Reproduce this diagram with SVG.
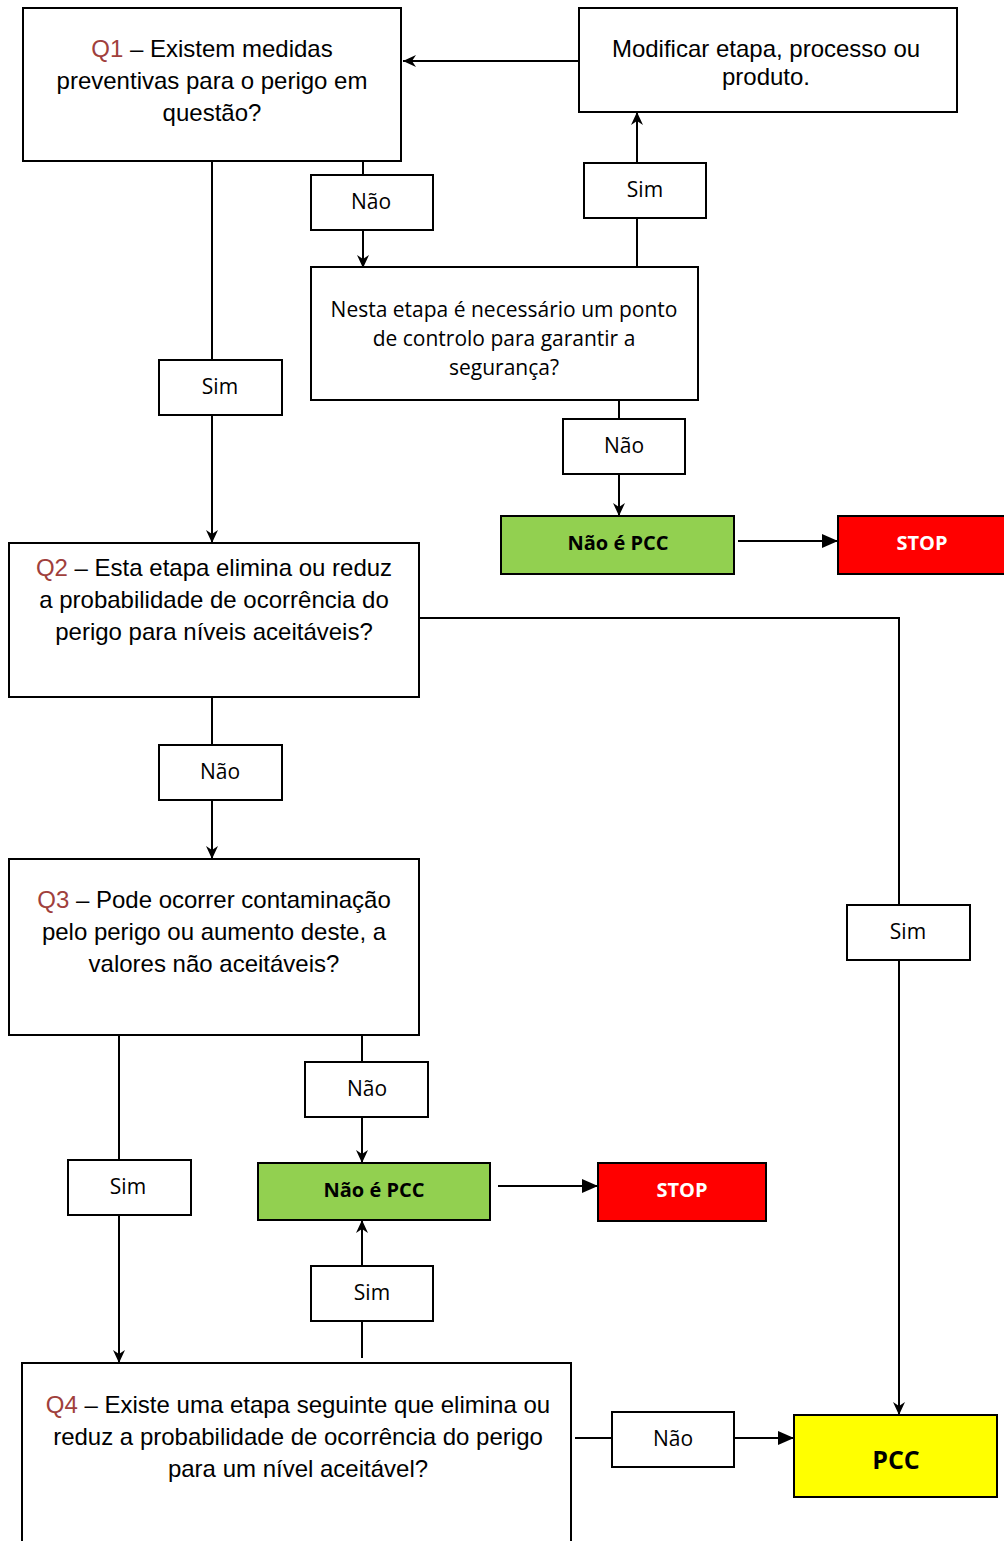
<svg xmlns="http://www.w3.org/2000/svg" width="1004" height="1541" viewBox="0 0 1004 1541">
<defs>
<marker id="open" markerUnits="userSpaceOnUse" markerWidth="14" markerHeight="14" refX="13" refY="6" orient="auto">
<path d="M0,0 L13,6 L0,12 L4,6 z" fill="#000"/>
</marker>
<marker id="block" markerUnits="userSpaceOnUse" markerWidth="18" markerHeight="16" refX="16" refY="7" orient="auto">
<path d="M0,0 L16,7 L0,14 z" fill="#000"/>
</marker>
</defs>
<style>
.box{fill:#fff;stroke:#000;stroke-width:2}
.q{font-family:"Liberation Sans",Arial,sans-serif;font-size:24px;fill:#000;text-anchor:middle}
.qn{fill:#a0403c}
.c{font-family:"Open Sans","Noto Sans",sans-serif;font-size:21px;fill:#000;text-anchor:middle}
.b{font-family:"Open Sans","Noto Sans",sans-serif;font-size:20px;font-weight:bold;text-anchor:middle}
.ln{fill:none;stroke:#000;stroke-width:2}
</style>
<rect width="1004" height="1541" fill="#fff"/>

<g id="connectors">
<line class="ln" x1="581" y1="61" x2="403" y2="61" marker-end="url(#open)"/>
<line class="ln" x1="363" y1="161" x2="363" y2="175"/>
<line class="ln" x1="363" y1="230" x2="363" y2="268" marker-end="url(#open)"/>
<line class="ln" x1="637" y1="269" x2="637" y2="218"/>
<line class="ln" x1="637" y1="163" x2="637" y2="112" marker-end="url(#open)"/>
<line class="ln" x1="619" y1="400" x2="619" y2="419"/>
<line class="ln" x1="619" y1="474" x2="619" y2="516" marker-end="url(#open)"/>
<line class="ln" x1="738" y1="541" x2="838" y2="541" marker-end="url(#block)"/>
<line class="ln" x1="212" y1="161" x2="212" y2="360"/>
<line class="ln" x1="212" y1="415" x2="212" y2="543" marker-end="url(#open)"/>
<polyline class="ln" points="419,618 899,618 899,905"/>
<line class="ln" x1="899" y1="960" x2="899" y2="1415" marker-end="url(#open)"/>
<line class="ln" x1="212" y1="697" x2="212" y2="745"/>
<line class="ln" x1="212" y1="800" x2="212" y2="859" marker-end="url(#open)"/>
<line class="ln" x1="119" y1="1035" x2="119" y2="1160"/>
<line class="ln" x1="119" y1="1215" x2="119" y2="1363" marker-end="url(#open)"/>
<line class="ln" x1="362" y1="1035" x2="362" y2="1062"/>
<line class="ln" x1="362" y1="1117" x2="362" y2="1163" marker-end="url(#open)"/>
<line class="ln" x1="498" y1="1186" x2="598" y2="1186" marker-end="url(#block)"/>
<line class="ln" x1="362" y1="1358" x2="362" y2="1321"/>
<line class="ln" x1="362" y1="1266" x2="362" y2="1220" marker-end="url(#open)"/>
<line class="ln" x1="575" y1="1438" x2="612" y2="1438"/>
<line class="ln" x1="734" y1="1438" x2="794" y2="1438" marker-end="url(#block)"/>
</g>

<g id="q1">
<rect class="box" x="23" y="8" width="378" height="153"/>
<text class="q" x="212" y="57"><tspan class="qn">Q1</tspan> – Existem medidas</text>
<text class="q" x="212" y="89">preventivas para o perigo em</text>
<text class="q" x="212" y="121">questão?</text>
</g>

<g id="modificar">
<rect class="box" x="579" y="8" width="378" height="104"/>
<text class="q" x="766" y="57">Modificar etapa, processo ou</text>
<text class="q" x="766" y="85">produto.</text>
</g>

<g id="nao1">
<rect class="box" x="311" y="175" width="122" height="55"/>
<text class="c" x="371" y="209">Não</text>
</g>

<g id="sim1">
<rect class="box" x="584" y="163" width="122" height="55"/>
<text class="c" x="645" y="197">Sim</text>
</g>

<g id="nesta">
<rect class="box" x="311" y="267" width="387" height="133"/>
<text class="c" x="504" y="317">Nesta etapa é necessário um ponto</text>
<text class="c" x="504" y="346">de controlo para garantir a</text>
<text class="c" x="504" y="375">segurança?</text>
</g>

<g id="nao2">
<rect class="box" x="563" y="419" width="122" height="55"/>
<text class="c" x="624" y="453">Não</text>
</g>

<g id="naopcc1">
<rect x="501" y="516" width="233" height="58" fill="#92d050" stroke="#000" stroke-width="2"/>
<text class="b" x="618" y="550" fill="#000">Não é PCC</text>
</g>

<g id="stop1">
<rect x="838" y="516" width="170" height="58" fill="#ff0000" stroke="#000" stroke-width="2"/>
<text class="b" x="922" y="550" fill="#fff">STOP</text>
</g>

<g id="sim2">
<rect class="box" x="159" y="360" width="123" height="55"/>
<text class="c" x="220" y="394">Sim</text>
</g>

<g id="q2">
<rect class="box" x="9" y="543" width="410" height="154"/>
<text class="q" x="214" y="576"><tspan class="qn">Q2</tspan> – Esta etapa elimina ou reduz</text>
<text class="q" x="214" y="608">a probabilidade de ocorrência do</text>
<text class="q" x="214" y="640">perigo para níveis aceitáveis?</text>
</g>

<g id="nao3">
<rect class="box" x="159" y="745" width="123" height="55"/>
<text class="c" x="220" y="779">Não</text>
</g>

<g id="sim3">
<rect class="box" x="847" y="905" width="123" height="55"/>
<text class="c" x="908" y="939">Sim</text>
</g>

<g id="q3">
<rect class="box" x="9" y="859" width="410" height="176"/>
<text class="q" x="214" y="908"><tspan class="qn">Q3</tspan> – Pode ocorrer contaminação</text>
<text class="q" x="214" y="940">pelo perigo ou aumento deste, a</text>
<text class="q" x="214" y="972">valores não aceitáveis?</text>
</g>

<g id="sim4">
<rect class="box" x="68" y="1160" width="123" height="55"/>
<text class="c" x="128" y="1194">Sim</text>
</g>

<g id="nao4">
<rect class="box" x="305" y="1062" width="123" height="55"/>
<text class="c" x="367" y="1096">Não</text>
</g>

<g id="naopcc2">
<rect x="258" y="1163" width="232" height="57" fill="#92d050" stroke="#000" stroke-width="2"/>
<text class="b" x="374" y="1197" fill="#000">Não é PCC</text>
</g>

<g id="stop2">
<rect x="598" y="1163" width="168" height="58" fill="#ff0000" stroke="#000" stroke-width="2"/>
<text class="b" x="682" y="1197" fill="#fff">STOP</text>
</g>

<g id="sim5">
<rect class="box" x="311" y="1266" width="122" height="55"/>
<text class="c" x="372" y="1300">Sim</text>
</g>

<g id="q4">
<rect class="box" x="22" y="1363" width="549" height="200"/>
<text class="q" x="298" y="1413"><tspan class="qn">Q4</tspan> – Existe uma etapa seguinte que elimina ou</text>
<text class="q" x="298" y="1445">reduz a probabilidade de ocorrência do perigo</text>
<text class="q" x="298" y="1477">para um nível aceitável?</text>
</g>

<g id="nao5">
<rect class="box" x="612" y="1412" width="122" height="55"/>
<text class="c" x="673" y="1446">Não</text>
</g>

<g id="pcc">
<rect x="794" y="1415" width="203" height="82" fill="#ffff00" stroke="#000" stroke-width="2"/>
<text class="b" x="896" y="1469" fill="#000" style="font-size:25px">PCC</text>
</g>
</svg>
